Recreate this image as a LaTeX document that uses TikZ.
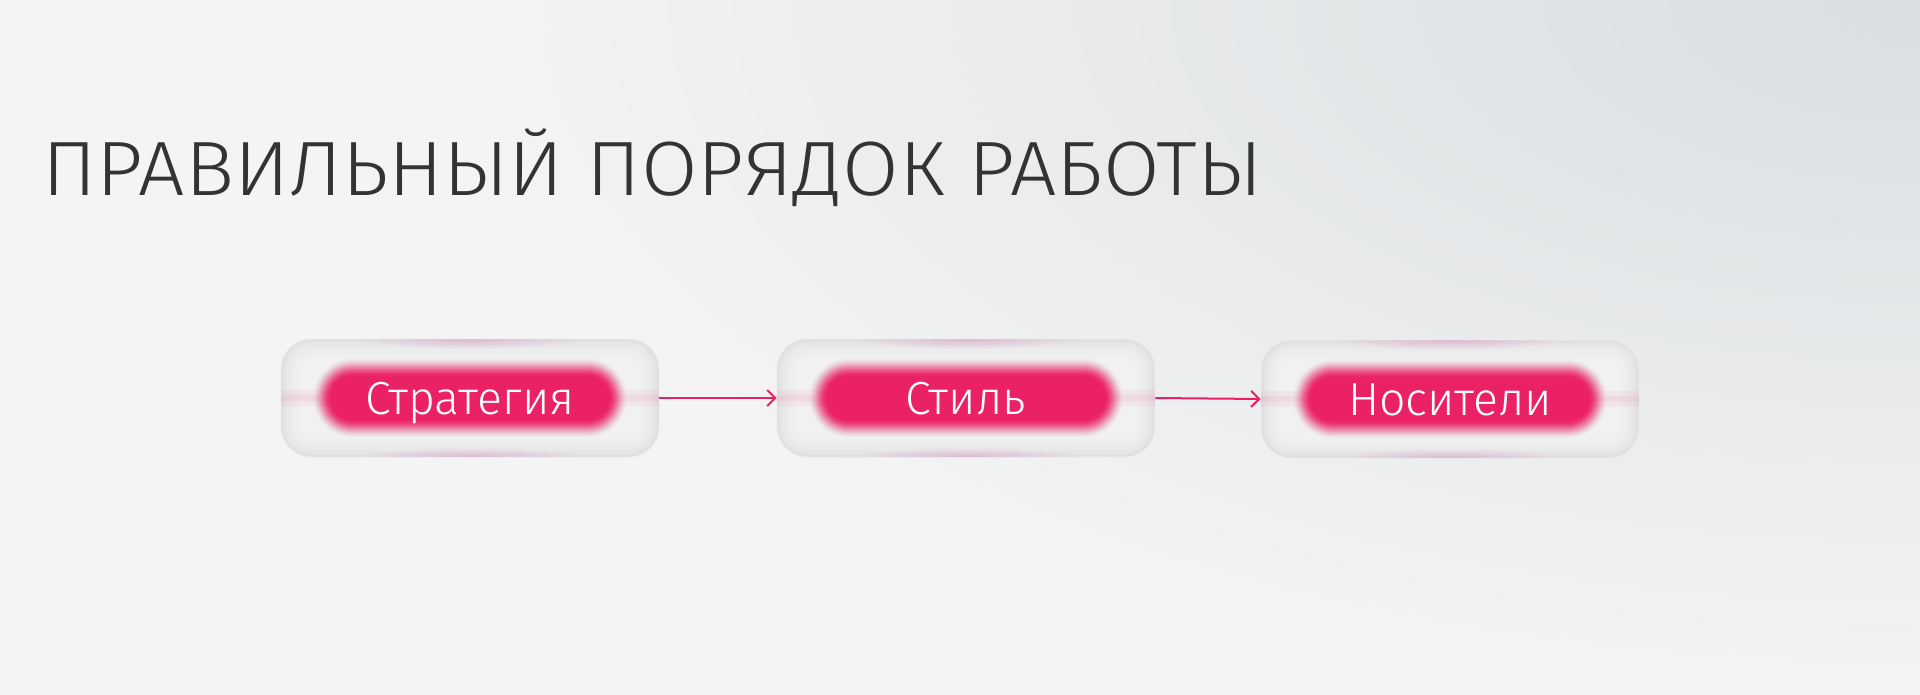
\documentclass[tikz,border=0pt]{standalone}
\usepackage{fontspec}
\setmainfont{Fira Sans Light}
\usetikzlibrary{arrows.meta,fadings}
\definecolor{bgA}{HTML}{D9DEE1}
\definecolor{bgB}{HTML}{F4F4F4}
\definecolor{pinkc}{HTML}{EB2166}
\definecolor{titlec}{HTML}{333333}
\definecolor{boxedge}{HTML}{DFDFDF}
\definecolor{boxin}{HTML}{F6F6F6}
\definecolor{glow}{HTML}{D98CC0}
\tikzfading[name=softglow, inner color=transparent!0, outer color=transparent!100]
\tikzset{
  boxnode/.style={rectangle, minimum width=189pt, minimum height=59pt, rounded corners=15pt,
    fill=boxedge, draw=boxedge!60!white, line width=0.4pt, inner sep=0pt},
  pilltext/.style={text=white, font=\fontsize{23.2pt}{26pt}\selectfont, inner sep=0pt, anchor=base},
  titlestyle/.style={text=titlec, font=\fontsize{38.5pt}{42pt}\selectfont, inner sep=0pt},
  flowarrow/.style={draw=pinkc, line width=1pt, -{Straight Barb[length=4pt,width=8pt,line width=1pt]}},
}
\newcommand\flowbox[3]{%
  \node[boxnode] (#1) at #2 {};
  \begin{scope}[shift={(#1.center)}]
    \clip[rounded corners=15pt] (-189,-59) rectangle (189,59);
    \foreach \k in {2,4,...,30} {
      \pgfmathsetmacro\rr{max(30-\k,4)*0.5}
      \fill[boxin, opacity=0.18, rounded corners=\rr pt] (-189+\k,-59+\k) rectangle (189-\k,59-\k);
    }
    \fill[pinkc, opacity=0.05] (-189,-8) rectangle (189,8);
    \fill[pinkc, opacity=0.06] (-189,-3) rectangle (189,3);
    \fill[glow, opacity=0.45, path fading=softglow] (0,-59) ellipse [x radius=110, y radius=10];
    \fill[glow, opacity=0.45, path fading=softglow] (0,59) ellipse [x radius=110, y radius=10];
    \foreach \j in {1,...,20} {
      \pgfmathsetmacro\tA{\j/20}
      \pgfmathsetmacro\tB{(\j-1)/20}
      \pgfmathsetmacro\cA{3*\tA*\tA-2*\tA*\tA*\tA}
      \pgfmathsetmacro\cB{3*\tB*\tB-2*\tB*\tB*\tB}
      \pgfmathsetmacro\op{min(1,(\cA-\cB)/(1-\cB))}
      \pgfmathsetmacro\ww{147.5+11-\j}
      \pgfmathsetmacro\hh{30+11-\j}
      \fill[pinkc, opacity=\op, rounded corners=\hh*0.5pt-0.01pt] (-\ww,-\hh) rectangle (\ww,\hh);
    }
    \node[pilltext] (#1t) at (0,16) {#3};
  \end{scope}
}
\begin{document}
\begin{tikzpicture}[x=0.5pt,y=-0.5pt]
  \useasboundingbox (0,0) rectangle (1920,695);
  \begin{scope}
    \clip (0,0) rectangle (1920,695);
    \fill[bgB] (0,0) rectangle (1920,695);
    \foreach \i in {0,...,47} {
      \pgfmathsetmacro\r{1-\i/48}
      \pgfmathtruncatemacro\p{100*\i/47}
      \fill[bgA!\p!bgB] (1920,0) ellipse [x radius=1500*\r, y radius=720*\r];
    }
  \end{scope}
  \node[titlestyle, anchor=base west] (title) at (42,196) {\scalebox{1.065}[1]{ПРАВИЛЬНЫЙ ПОРЯДОК РАБОТЫ}};
  \flowbox{b1}{(470,398)}{Стратегия}
  \flowbox{b2}{(966,398)}{Стиль}
  \flowbox{b3}{(1450,399)}{Носители}
  \draw[flowarrow] (b1.east) -- (b2.west);
  \draw[flowarrow] (b2.east) -- (b3.west);
\end{tikzpicture}
\end{document}
